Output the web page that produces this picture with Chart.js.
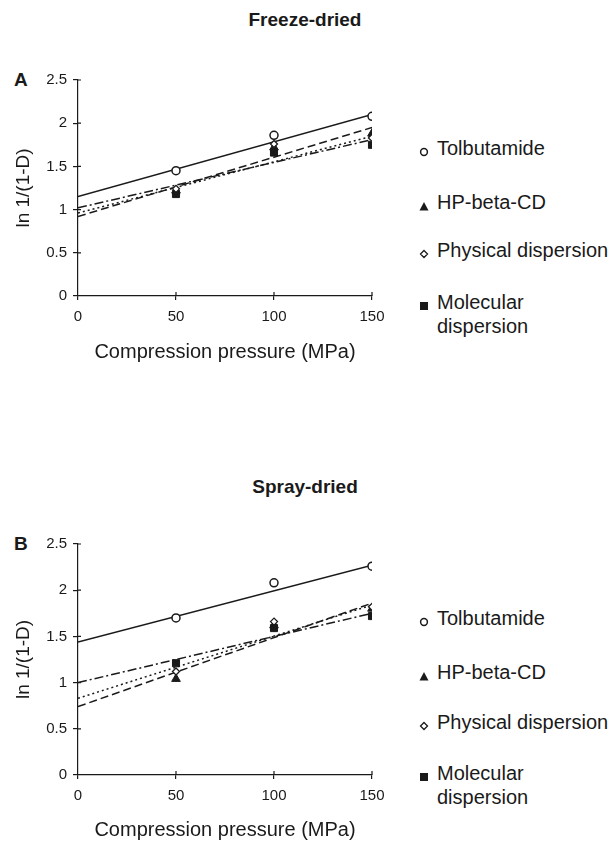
<!DOCTYPE html>
<html>
<head>
<meta charset="utf-8">
<script src="https://cdn.jsdelivr.net/npm/chart.js@4.4.1/dist/chart.umd.min.js"></script>
<style>
html, body { margin: 0; padding: 0; width: 613px; height: 843px; overflow: hidden; background: #fff; }
body { position: relative; font-family: "Liberation Sans", Arial, sans-serif; color: #1a1a1a; }
.panel { position: absolute; left: 0; width: 400px; }
.title { position: absolute; left: 0; width: 610px; text-align: center; font-weight: bold; font-size: 19px; line-height: 22px; }
.letter { position: absolute; left: 14px; font-weight: bold; font-size: 19px; line-height: 22px; }
.leg { position: absolute; left: 437px; font-size: 20px; line-height: 24px; white-space: pre; }
.mark { position: absolute; left: 419px; width: 10px; height: 10px; }
</style>
</head>
<body>

<div class="title" style="top:9px">Freeze-dried</div>
<div class="letter" style="top:69px">A</div>
<div class="panel" style="top:0px; height:368px"><canvas id="chartA"></canvas></div>
<div id="legendA"></div>

<div class="title" style="top:476px">Spray-dried</div>
<div class="letter" style="top:533px">B</div>
<div class="panel" style="top:460px; height:386px"><canvas id="chartB"></canvas></div>
<div id="legendB"></div>

<script>
// series names (legend)
const seriesNames = ["Tolbutamide", "HP-beta-CD", "Physical dispersion", "Molecular\ndispersion"];

// axes
const pressure = [50, 100, 150];
const fitPressure = [0, 150];
const xTickValues = [0, 50, 100, 150];
const yTickValues = [0, 0.5, 1, 1.5, 2, 2.5];

// A: freeze-dried, measured points
const freezeTolbutamide = [1.45, 1.86, 2.08];
const freezeHPbetaCD = [1.22, 1.72, 1.88];
const freezePhysical = [1.24, 1.76, 1.83];
const freezeMolecular = [1.18, 1.66, 1.75];
// A: fitted lines at 0 and 150 MPa
const freezeFitTolbutamide = [1.15, 2.10];
const freezeFitHPbetaCD = [0.92, 1.95];
const freezeFitPhysical = [0.96, 1.85];
const freezeFitMolecular = [1.02, 1.81];

// B: spray-dried, measured points
const sprayTolbutamide = [1.70, 2.08, 2.26];
const sprayHPbetaCD = [1.04, 1.62, 1.80];
const sprayPhysical = [1.12, 1.66, 1.82];
const sprayMolecular = [1.21, 1.59, 1.72];
// B: fitted lines at 0 and 150 MPa
const sprayFitTolbutamide = [1.44, 2.27];
const sprayFitHPbetaCD = [0.74, 1.86];
const sprayFitPhysical = [0.83, 1.84];
const sprayFitMolecular = [1.00, 1.75];

const ink = "#1a1a1a";
const fontFamily = "'Liberation Sans', Arial, sans-serif";

// marker + line style per series (same order as seriesNames)
const styles = [
    {point: "circle", radius: 4, fill: "#fff", border: 1.5, dash: []},
    {point: "triangle", radius: 5, fill: ink, border: 1, dash: [8, 4]},
    {point: "rectRot", radius: 3.5, fill: "#fff", border: 1.3, dash: [2, 3]},
    {point: "rect", radius: 5, fill: ink, border: 1, dash: [9, 3, 2, 3]}
];

function toXY(xs, ys){
    return xs.map(function(x, i){ return {x: x, y: ys[i]}; });
}

// ticks that cross the axis line (inner half)
const crossTicks = {
    id: "crossTicks",
    afterDraw: function(chart){
        const ctx = chart.ctx;
        const xs = chart.scales.x, ys = chart.scales.y;
        const y0 = ys.getPixelForValue(0), x0 = xs.getPixelForValue(0);
        ctx.save();
        ctx.strokeStyle = ink;
        ctx.lineWidth = 1.2;
        ctx.beginPath();
        xTickValues.forEach(function(v){
            if (v === 0) return;
            const px = xs.getPixelForValue(v);
            ctx.moveTo(px, y0); ctx.lineTo(px, y0 - 4);
        });
        yTickValues.forEach(function(v){
            if (v === 0) return;
            const py = ys.getPixelForValue(v);
            ctx.moveTo(x0, py); ctx.lineTo(x0 + 3, py);
        });
        ctx.stroke();
        ctx.restore();
    }
};

function makePanel(canvasId, points, fits, plotTop, plotBottom, canvasHeight){
    const datasets = [];
    // markers first so they are drawn on top of the lines
    const markerOrder = [0, 2, 3, 1];
    markerOrder.forEach(function(i){
        datasets.push({
            label: seriesNames[i],
            data: toXY(pressure, points[i]),
            showLine: false,
            pointStyle: styles[i].point,
            pointRadius: styles[i].radius,
            pointBackgroundColor: styles[i].fill,
            pointBorderColor: ink,
            pointBorderWidth: styles[i].border
        });
    });
    fits.forEach(function(f, i){
        datasets.push({
            label: seriesNames[i] + " fit",
            data: toXY(fitPressure, f),
            showLine: true,
            pointRadius: 0,
            borderColor: ink,
            borderWidth: 1.5,
            borderDash: styles[i].dash
        });
    });

    return new Chart(document.getElementById(canvasId), {
        type: "scatter",
        data: {datasets: datasets},
        plugins: [crossTicks],
        options: {
            responsive: true,
            maintainAspectRatio: false,
            animation: false,
            layout: {padding: {top: plotTop, right: 28, left: 0, bottom: 0}},
            plugins: {legend: {display: false}, tooltip: {enabled: false}},
            scales: {
                x: {
                    type: "linear",
                    min: 0,
                    max: 150,
                    afterBuildTicks: function(s){ s.ticks = xTickValues.map(function(v){ return {value: v}; }); },
                    afterFit: function(s){ s.height = canvasHeight - plotBottom; },
                    ticks: {color: ink, padding: 8, font: {size: 15, family: fontFamily},
                            callback: function(v){ return String(v); }},
                    grid: {drawOnChartArea: false, tickLength: 4, color: ink, lineWidth: 1.2},
                    border: {color: ink, width: 1.2},
                    title: {display: true, text: "Compression pressure (MPa)", color: ink,
                            font: {size: 20, family: fontFamily}, padding: {top: 0, bottom: 4}}
                },
                y: {
                    min: 0,
                    max: 2.5,
                    afterBuildTicks: function(s){ s.ticks = yTickValues.map(function(v){ return {value: v}; }); },
                    afterFit: function(s){ s.width = 78; },
                    ticks: {color: ink, padding: 6, font: {size: 15, family: fontFamily},
                            callback: function(v){ return String(v); }},
                    grid: {drawOnChartArea: false, tickLength: 5, color: ink, lineWidth: 1.2},
                    border: {color: ink, width: 1.2},
                    title: {display: true, text: "ln 1/(1-D)", color: ink,
                            font: {size: 19, family: fontFamily}, padding: {top: 12, bottom: 0}}
                }
            }
        }
    });
}

// legend markers as small svg shapes
const legendSvg = [
    '<svg width="10" height="10"><circle cx="5" cy="5" r="3.4" fill="#fff" stroke="' + ink + '" stroke-width="1.5"/></svg>',
    '<svg width="10" height="10"><polygon points="5,1 9.5,9.5 0.5,9.5" fill="' + ink + '"/></svg>',
    '<svg width="10" height="10"><polygon points="5,1.5 8.5,5 5,8.5 1.5,5" fill="#fff" stroke="' + ink + '" stroke-width="1.3"/></svg>',
    '<svg width="10" height="10"><rect x="1" y="1" width="8" height="8" fill="' + ink + '"/></svg>'
];

function makeLegend(holderId, centers){
    const holder = document.getElementById(holderId);
    let html = "";
    seriesNames.forEach(function(name, i){
        html += '<div class="mark" style="top:' + (centers[i] - 5) + 'px">' + legendSvg[i] + '</div>';
        html += '<div class="leg" style="top:' + (centers[i] - 12) + 'px">' + name + '</div>';
    });
    holder.innerHTML = html;
}

makePanel("chartA",
    [freezeTolbutamide, freezeHPbetaCD, freezePhysical, freezeMolecular],
    [freezeFitTolbutamide, freezeFitHPbetaCD, freezeFitPhysical, freezeFitMolecular],
    80, 296, 368);

makePanel("chartB",
    [sprayTolbutamide, sprayHPbetaCD, sprayPhysical, sprayMolecular],
    [sprayFitTolbutamide, sprayFitHPbetaCD, sprayFitPhysical, sprayFitMolecular],
    84, 315, 386);

makeLegend("legendA", [148, 202, 250, 302]);
makeLegend("legendB", [618, 672, 722, 773]);
</script>
</body>
</html>
